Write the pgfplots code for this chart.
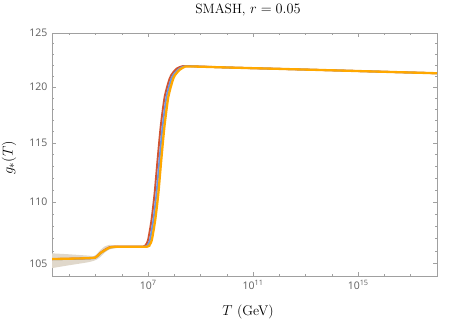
\documentclass[border=0pt]{standalone}
\usepackage{fontspec}
\usepackage{pgfplots}
\pgfplotsset{compat=1.18}
\usepgfplotslibrary{fillbetween}
\newfontfamily\tickfont{Open Sans}
\definecolor{cred}{RGB}{211,84,48}
\definecolor{cblue}{RGB}{104,150,232}
\definecolor{corange}{RGB}{255,168,0}
\definecolor{cband}{RGB}{224,216,203}
\definecolor{framegray}{RGB}{160,160,160}
\definecolor{ticktext}{RGB}{95,95,95}

\begin{document}
\begin{tikzpicture}
\begin{axis}[at={(0,0)},anchor=south west,
  scale only axis,width=385bp,height=243bp,
  xmode=log,ymode=log,
  xmin=2188,xmax=1e18,ymin=104,ymax=125,
  xtick={1e7,1e11,1e15},
  xticklabels={10\textsuperscript{7},10\textsuperscript{11},10\textsuperscript{15}},
  minor xtick={1e4,1e5,1e6,1e8,1e9,1e10,1e12,1e13,1e14,1e16,1e17},
  ytick={105,110,115,120,125},
  yticklabels={105,110,115,120,125},
  minor ytick={104,106,107,108,109,111,112,113,114,116,117,118,119,121,122,123,124},
  tick align=inside,
  major tick length=4bp,minor tick length=2.5bp,
  axis line style={framegray},
  every tick/.style={framegray,line width=0.5bp},
  tick label style={font=\tickfont\fontsize{10.5bp}{12bp}\selectfont,text=ticktext},
  xticklabel style={yshift=-1bp},
  yticklabel style={xshift=-1bp},
  every axis plot/.append style={smooth,tension=0.4}]

% uncertainty band at low T
\addplot[name path=up,draw=none] coordinates {
  (2188,105.80)(1e4,105.72)(5e4,105.62)(8.5e4,105.58)(1.1e5,105.75)
  (1.5e5,106.05)(2.2e5,106.35)(3.5e5,106.48)(6e5,106.42)(1e6,106.40)(1e7,106.40)};
\addplot[name path=lo,draw=none] coordinates {
  (2188,104.62)(1e4,104.85)(5e4,105.08)(8.5e4,105.20)(1.1e5,105.30)
  (1.5e5,105.50)(2.2e5,105.85)(3.5e5,106.12)(6e5,106.22)(1e6,106.24)(1e7,106.25)};
\addplot[cband,draw=none] fill between[of=up and lo];

% red
\addplot[cred,line width=1.9bp] coordinates {
  (2188,105.34)(1e4,105.37)(5e4,105.41)(9.5e4,105.45)(1.2e5,105.62)
  (1.5e5,105.82)(2.3e5,106.10)(3.5e5,106.30)(6e5,106.34)(1e6,106.34)
  (6.3e6,106.34)(8.2e6,106.50)(9.9e6,106.86)(1.34e7,108.49)(1.76e7,110.70)
  (2.28e7,113.53)(3.0e7,116.43)(4.25e7,119.10)(6.6e7,120.78)(8.8e7,121.30)
  (1.22e8,121.68)(1.8e8,121.86)(3.0e8,121.91)
  (1e10,121.78)(1e12,121.65)(1e14,121.52)(1e16,121.38)(1e18,121.25)};

% blue
\addplot[cblue,line width=1.8bp] coordinates {
  (2188,105.32)(1e4,105.35)(5e4,105.39)(9.5e4,105.42)(1.2e5,105.58)
  (1.5e5,105.78)(2.3e5,106.05)(3.5e5,106.26)(6e5,106.31)(1e6,106.32)
  (7.6e6,106.33)(9.8e6,106.50)(1.17e7,106.86)(1.58e7,108.49)(2.08e7,110.70)
  (2.69e7,113.53)(3.54e7,116.43)(5.0e7,119.10)(7.75e7,120.78)(1.02e8,121.25)
  (1.42e8,121.60)(2.0e8,121.82)(3.3e8,121.89)
  (1e10,121.78)(1e12,121.65)(1e14,121.52)(1e16,121.38)(1e18,121.25)};

% orange
\addplot[corange,line width=2.3bp] coordinates {
  (2188,105.34)(1e4,105.37)(5e4,105.41)(9.5e4,105.45)(1.2e5,105.60)
  (1.5e5,105.80)(2.3e5,106.06)(3.5e5,106.27)(6e5,106.32)(1e6,106.32)
  (9e6,106.33)(1.15e7,106.50)(1.38e7,106.86)(1.86e7,108.49)(2.45e7,110.70)
  (3.16e7,113.53)(4.17e7,116.43)(5.89e7,119.10)(9.12e7,120.78)(1.2e8,121.25)
  (1.66e8,121.60)(2.3e8,121.80)(3.47e8,121.88)
  (1e10,121.78)(1e12,121.65)(1e14,121.52)(1e16,121.38)(1e18,121.25)};
\end{axis}

\node[font=\fontsize{13.5bp}{15bp}\selectfont] at (196bp,266bp) {SMASH, $r=0.05$};
\node[font=\fontsize{14bp}{16bp}\selectfont] at (196bp,-36bp) {$T$ (GeV)};
\node[font=\fontsize{15.5bp}{17bp}\selectfont,rotate=90] at (-43bp,118bp) {$g_*(T)$};

\pgfresetboundingbox
\path[use as bounding box] (-52bp,-52bp) rectangle (398bp,276bp);
\end{tikzpicture}
\end{document}
